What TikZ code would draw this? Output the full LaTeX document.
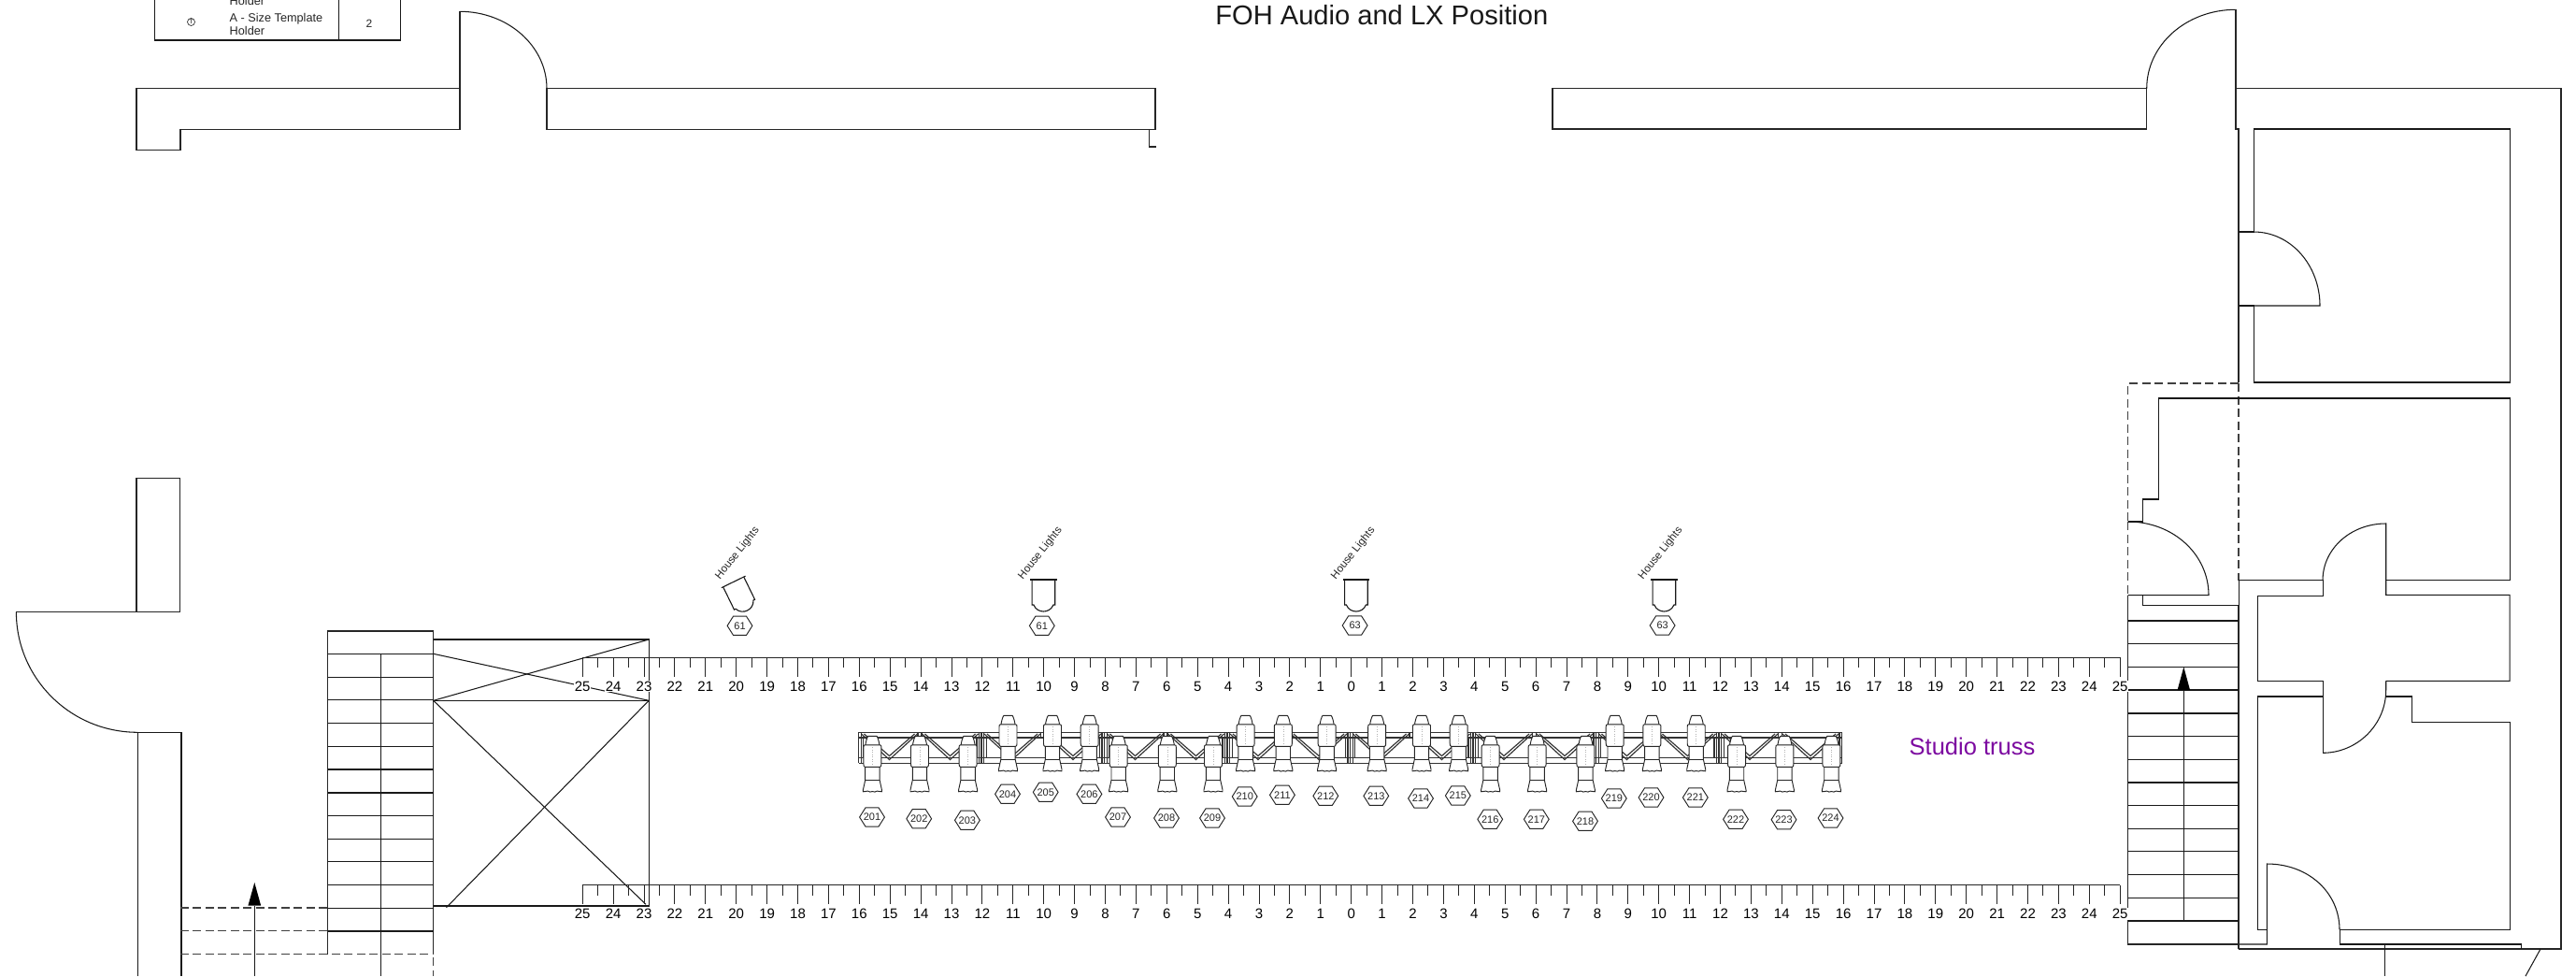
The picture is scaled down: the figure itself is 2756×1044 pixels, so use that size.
\documentclass[tikz,border=0pt]{standalone}
\usepackage{fontspec}
\setmainfont{Liberation Sans}
\definecolor{trusspurple}{RGB}{124,10,160}
\tikzset{
  x=1pt,y=-1pt,
  wall/.style={line width=1.25pt,black!85,line join=miter},
  thinwall/.style={line width=1.05pt,black!90},
  dash wall/.style={line width=1.15pt,black!75,dash pattern=on 9pt off 4.5pt},
  treadline/.style={line width=1.35pt,black!90},
  tick/.style={line width=1pt,black!85},
  rulerlab/.style={font=\fontsize{15}{15}\selectfont,fill=white,inner sep=0.8pt},
  hexlab/.style={font=\fontsize{11}{11}\selectfont,inner sep=0pt,text=black!85},
  houselab/.style={font=\fontsize{11.6}{12}\selectfont,rotate=51.5,inner sep=0pt,text=black!85},
  tablelab/.style={font=\fontsize{12.7}{13}\selectfont,inner sep=0pt,anchor=base west,text=black!85},
  fixture line/.style={line width=0.95pt,draw=black!85,fill=white,line join=round},
  truss line/.style={line width=1.15pt,black!80},
  upcolor/.style={fill=black,draw=none},
}
\newcommand{\hexat}[4]{% name, x, y, text
  \draw[line width=0.95pt,black!85] ([shift={(-13.4,0)}]#2,#3) -- ([shift={(-7,-10.1)}]#2,#3) -- ([shift={(7,-10.1)}]#2,#3) -- ([shift={(13.4,0)}]#2,#3) -- ([shift={(7,10.1)}]#2,#3) -- ([shift={(-7,10.1)}]#2,#3) -- cycle;
  \node[hexlab] (#1) at (#2,#3) {#4};
}
\newcommand{\prof}[2]{% centre x, top y
  \begin{scope}[shift={(#1,#2)}]
    \path[fixture line] (-7.7,31) -- (-7.7,47) -- (-10,57.5) -- (-10,59.5)
       .. controls (-8,60.5) and (-7,58) .. (-5,58.8) .. controls (-3,59.8) and (-2,60.2) .. (0,59.2)
       .. controls (2,60.2) and (3,59.8) .. (5,58.8) .. controls (7,58) and (8,60.5) .. (10,59.5)
       -- (10,57.5) -- (7.7,47) -- (7.7,31) -- cycle;
    \draw[line width=0.95pt,black!85] (-7.7,47) -- (7.7,47);
    \path[fixture line] (-4.6,0) -- (4.6,0) .. controls (6,2) and (7,6) .. (7.6,10) -- (-7.6,10) .. controls (-7,6) and (-6,2) .. (-4.6,0) -- cycle;
    \path[fixture line] (-8,9.5) -- (8,9.5) .. controls (9.3,9.5) and (9.5,10.5) .. (9.5,12) -- (9.5,30) .. controls (9.5,32) and (9,33) .. (8,33) -- (-8,33) .. controls (-9,33) and (-9.5,32) .. (-9.5,30) -- (-9.5,12) .. controls (-9.5,10.5) and (-9.3,9.5) .. (-8,9.5) -- cycle;
    \draw[black!30,line width=0.5pt,dotted] (0,12) -- (0,31);
  \end{scope}
}
\newcommand{\house}[3]{% centre x, top y, rotation
  \begin{scope}[shift={(#1,#2)},rotate=#3]
    \draw[line width=1.1pt,black!90,fill=white] (-12.3,0) -- (-12.3,27) -- (-10.5,27)
      .. controls (-8.5,32) and (-4,34) .. (0,34) .. controls (4,34) and (8.5,32) .. (10.5,27) -- (12.3,27) -- (12.3,0);
    \draw[line width=1.1pt,black!90] (-14.3,0) -- (14.3,0);
  \end{scope}
}
\newcommand{\trusseg}[1]{% left x of a 131.5 section
  \begin{scope}[shift={(#1,0)}]
    \draw[truss line] (0,783.3) -- (131.5,783.3) (0,789) -- (131.5,789) (0,810.7) -- (131.5,810.7) (0,816.3) -- (131.5,816.3);
    \draw[truss line] (0,783.3) -- (0,816.3) (2.6,783.3) -- (2.6,816.3) (5.2,789) -- (5.2,810.7);
    \draw[truss line] (126.5,789) -- (126.5,810.7) (129,783.3) -- (129,816.3) (131.5,783.3) -- (131.5,816.3);
    \draw[truss line] (3,785) -- (33,812.5) -- (63,785) (6,785) -- (33,808.5) -- (60,785);
    \draw[truss line] (68,785) -- (98,812.5) -- (128,785) (71,785) -- (98,808.5) -- (125,785);
    \draw[truss line] (63.5,783.3) -- (63.5,789) (67.5,783.3) -- (67.5,789);
  \end{scope}
}
\newcommand{\rulerat}[1]{% y of the ruler
  \draw[tick] (623,#1) -- (2268.3,#1);
  \foreach \n in {-25,...,25}{
    \pgfmathsetmacro{\tx}{1445.7+32.9*\n}
    \draw[tick] (\tx,#1) -- (\tx,#1+20.7);
    \pgfmathtruncatemacro{\lab}{abs(\n)}
    \node[rulerlab] (r#1n\n) at (\tx,#1+30.8) {\lab};
  }
  \foreach \n in {-25,...,24}{
    \pgfmathsetmacro{\tx}{1445.7+32.9*(\n+0.5)}
    \draw[tick] (\tx,#1) -- (\tx,#1+11);
  }
}
\begin{document}
\begin{tikzpicture}
\useasboundingbox[fill=white] (0,0) rectangle (2756,1044);

% legend table fragment
\draw[thinwall] (165.6,0) -- (165.6,43) -- (428.6,43) -- (428.6,0) (362.5,0) -- (362.5,43);
\node[tablelab] (t1) at (245.5,5.5) {Holder};
\node[tablelab] (t2) at (245.5,23.5) {A - Size Template};
\node[tablelab] (t3) at (245.5,37) {Holder};
\node[font=\fontsize{12}{12}\selectfont,inner sep=0pt,text=black!85] (t4) at (395,25) {2};
\draw[line width=0.7pt,black!80] (204.5,23.5) circle (4);
\node[font=\fontsize{6.5}{7}\selectfont,inner sep=0pt] (t5) at (204.5,23.7) {T};

% title
\node[font=\fontsize{29.1}{30}\selectfont,inner sep=0pt,anchor=base,text=black!90] (title) at (1478.3,26.7) {FOH Audio and LX Position};

% top walls
\draw[wall] (492,94.7) -- (146,94.7) -- (146,160.7) -- (193,160.7) -- (193,138.7) -- (492,138.7);
\draw[wall] (492,138.7) -- (492,12.3);
\draw[thinwall] (492,12.3) .. controls (543,12.3) and (585,49) .. (585,94.7);
\draw[wall] (585,94.7) -- (1236,94.7) -- (1236,138.7) -- (585,138.7) -- cycle;
\draw[wall] (1229.3,138.7) -- (1229.3,157) -- (1236.7,157);
\draw[wall] (1661,94.7) -- (2296.7,94.7) -- (2296.7,138) -- (1661,138) -- cycle;
\draw[thinwall] (2296.7,94.7) .. controls (2296.7,48) and (2339,10.3) .. (2392,10.3);
\draw[wall] (2392,10.3) -- (2392,138) -- (2395,138) -- (2395,409);
\draw[wall] (2392,94.7) -- (2740,94.7) -- (2740,1015) -- (2395,1015);

% upper right room
\draw[thinwall] (2395,248) -- (2411,248) -- (2411,138) -- (2685,138) -- (2685,409) -- (2411,409) -- (2411,327) -- (2395,327);
\draw[thinwall] (2411,248) .. controls (2451,248) and (2482,284) .. (2482,327) -- (2411,327);
% dashed opening
\draw[dash wall] (2395,410) -- (2276.7,410) -- (2276.7,558);
\draw[dash wall] (2276.7,558) -- (2276.7,636.7);
\draw[dash wall] (2395,410) -- (2395,620.7);

% second room and stair landing
\draw[thinwall] (2276.7,558) -- (2292.7,558) -- (2292.7,534) -- (2309,534) -- (2309,426) -- (2685,426) -- (2685,620.4) -- (2552.7,620.4);
\draw[thinwall] (2276.7,558) .. controls (2325,558) and (2363,593) .. (2363,636.7) -- (2276.7,636.7);
\draw[thinwall] (2292.7,636.7) -- (2292.7,647.5) -- (2395,647.5) -- (2395,620.7) -- (2485,620.7) -- (2485,637.4) -- (2415.7,637.4) -- (2415.7,728.3) -- (2485,728.3) -- (2485,805.3);
\draw[thinwall] (2485,620.7) .. controls (2485,587) and (2515,560) .. (2552.7,560) -- (2552.7,636.4) -- (2685,636.4) -- (2685,728.3) -- (2552.7,728.3);
\draw[thinwall] (2552.7,728.3) -- (2552.7,738) .. controls (2552.7,775) and (2522,805.3) .. (2485,805.3);
\draw[thinwall] (2552.7,745) -- (2580.7,745) -- (2580.7,772.4) -- (2685,772.4) -- (2685,994.4) -- (2503,994.4) -- (2503,1010) -- (2697,1010) -- (2697,1015);
\draw[thinwall] (2485,745) -- (2415.7,745) -- (2415.7,994.4) -- (2425.3,994.4);
\draw[thinwall] (2503,994.4) .. controls (2503,955) and (2470,924) .. (2425.3,924) -- (2425.3,1010) -- (2395,1010);
\draw[thinwall] (2718,1015) -- (2702,1044);
\draw[thinwall] (2551,1010) -- (2551,1044);

% stairs right
\draw[wall] (2276.7,636.7) -- (2276.7,1010) -- (2395,1010);
\draw[wall,line width=1.5pt] (2395,647.5) -- (2395,1015);
\foreach \yy in {664.1,688.8,713.4,738,763,787.6,812.3,836.9,861.6,886.2,910.8,935.8,960.8,985}{
  \draw[treadline] (2276.7,\yy) -- (2395,\yy);
}
\draw[thinwall] (2336.3,985) -- (2336.3,738);
\fill[upcolor] (2336.3,713.4) -- (2329.6,738) -- (2343,738) -- cycle;

% left wall and door
\draw[wall] (146,654.7) -- (146,511.5) -- (192.8,511.5) -- (192.8,654.7) -- (17.4,654.7);
\draw[thinwall] (17.4,654.7) .. controls (17.4,725) and (75,783.3) .. (147.4,783.3);
\draw[thinwall] (147.4,1044) -- (147.4,783.3) -- (194,783.3) -- (194,1044);

% stairs left
\draw[wall] (350.8,1020.7) -- (350.8,675) -- (463.7,675) -- (463.7,1020.7);
\foreach \yy in {699.3,724.3,748.7,773.7,798.7,823,848,872.3,897.3,921.7,946.3,971.3,996}{
  \draw[treadline] (350.8,\yy) -- (463.7,\yy);
}
\draw[thinwall] (407.2,699.3) -- (407.2,1044);
\draw[dash wall] (192.8,971) -- (350.8,971);
\draw[dash wall] (192.8,995.5) -- (350.8,995.5);
\draw[dash wall] (192.8,1020.7) -- (463.7,1020.7);
\draw[dash wall] (463.7,1024) -- (463.7,1044);
\draw[thinwall] (272.3,1044) -- (272.3,968.7);
\fill[upcolor] (272.3,944) -- (265.4,968.7) -- (279.2,968.7) -- cycle;

% opening box
\draw[thinwall] (463.7,684) -- (694.2,684) -- (694.2,969) -- (463.7,969);
\draw[thinwall] (463.7,749.3) -- (694.2,749.3);
\draw[thinwall] (463.7,699.3) -- (694.2,749.3);
\draw[thinwall] (463.7,749.3) -- (694.2,684);
\draw[thinwall] (463.7,749.3) -- (691,967.3);
\draw[thinwall] (694.2,749.3) -- (477.5,970.7);

% rulers
\rulerat{703.3}
\rulerat{946.7}

% truss
\foreach \xx in {918.5,1050,1181.5,1313,1444.5,1576,1707.5,1839}{\trusseg{\xx}}

% fixtures
\foreach \cx in {933.4,984,1035.6,1196.7,1248.8,1298,1594.6,1644.6,1696.4,1858,1909.4,1959.4}{\prof{\cx}{787.3}}
\foreach \cx in {1078.5,1126,1165.7,1332.6,1372.8,1419.6,1473.2,1521,1560.7,1727.7,1767.4,1814.7}{\prof{\cx}{765.3}}

% channel numbers
\hexat{c201}{933}{874}{201}
\hexat{c202}{983.2}{875.7}{202}
\hexat{c203}{1034.9}{877.3}{203}
\hexat{c204}{1078}{849.3}{204}
\hexat{c205}{1118.7}{847.3}{205}
\hexat{c206}{1165.4}{849.3}{206}
\hexat{c207}{1196}{874}{207}
\hexat{c208}{1248}{875}{208}
\hexat{c209}{1297}{875}{209}
\hexat{c210}{1331.7}{852}{210}
\hexat{c211}{1371.9}{850.3}{211}
\hexat{c212}{1418.3}{851.3}{212}
\hexat{c213}{1472.3}{851.3}{213}
\hexat{c214}{1520}{854}{214}
\hexat{c215}{1559.8}{851}{215}
\hexat{c216}{1594.2}{876.3}{216}
\hexat{c217}{1643.8}{876.3}{217}
\hexat{c218}{1696}{878.3}{218}
\hexat{c219}{1726.8}{854}{219}
\hexat{c220}{1766.5}{853}{220}
\hexat{c221}{1813.8}{853}{221}
\hexat{c222}{1857}{876.3}{222}
\hexat{c223}{1908.5}{876.7}{223}
\hexat{c224}{1958.5}{875}{224}

% house lights
\house{784.7}{622.4}{26}
\house{1116.4}{620}{0}
\house{1450.9}{620}{0}
\house{1780.4}{620}{0}
\hexat{h1}{791.5}{669.3}{61}
\hexat{h2}{1114.8}{669.3}{61}
\hexat{h3}{1449.6}{669}{63}
\hexat{h4}{1778.6}{669}{63}
\node[houselab] (hl1) at (789,592) {House Lights};
\node[houselab] (hl2) at (1113,592) {House Lights};
\node[houselab] (hl3) at (1447.8,592) {House Lights};
\node[houselab] (hl4) at (1776.7,592) {House Lights};

% label
\node[font=\fontsize{25.5}{26}\selectfont,text=trusspurple,inner sep=0pt,anchor=base] (st) at (2110,807.7) {Studio truss};
\end{tikzpicture}
\end{document}
